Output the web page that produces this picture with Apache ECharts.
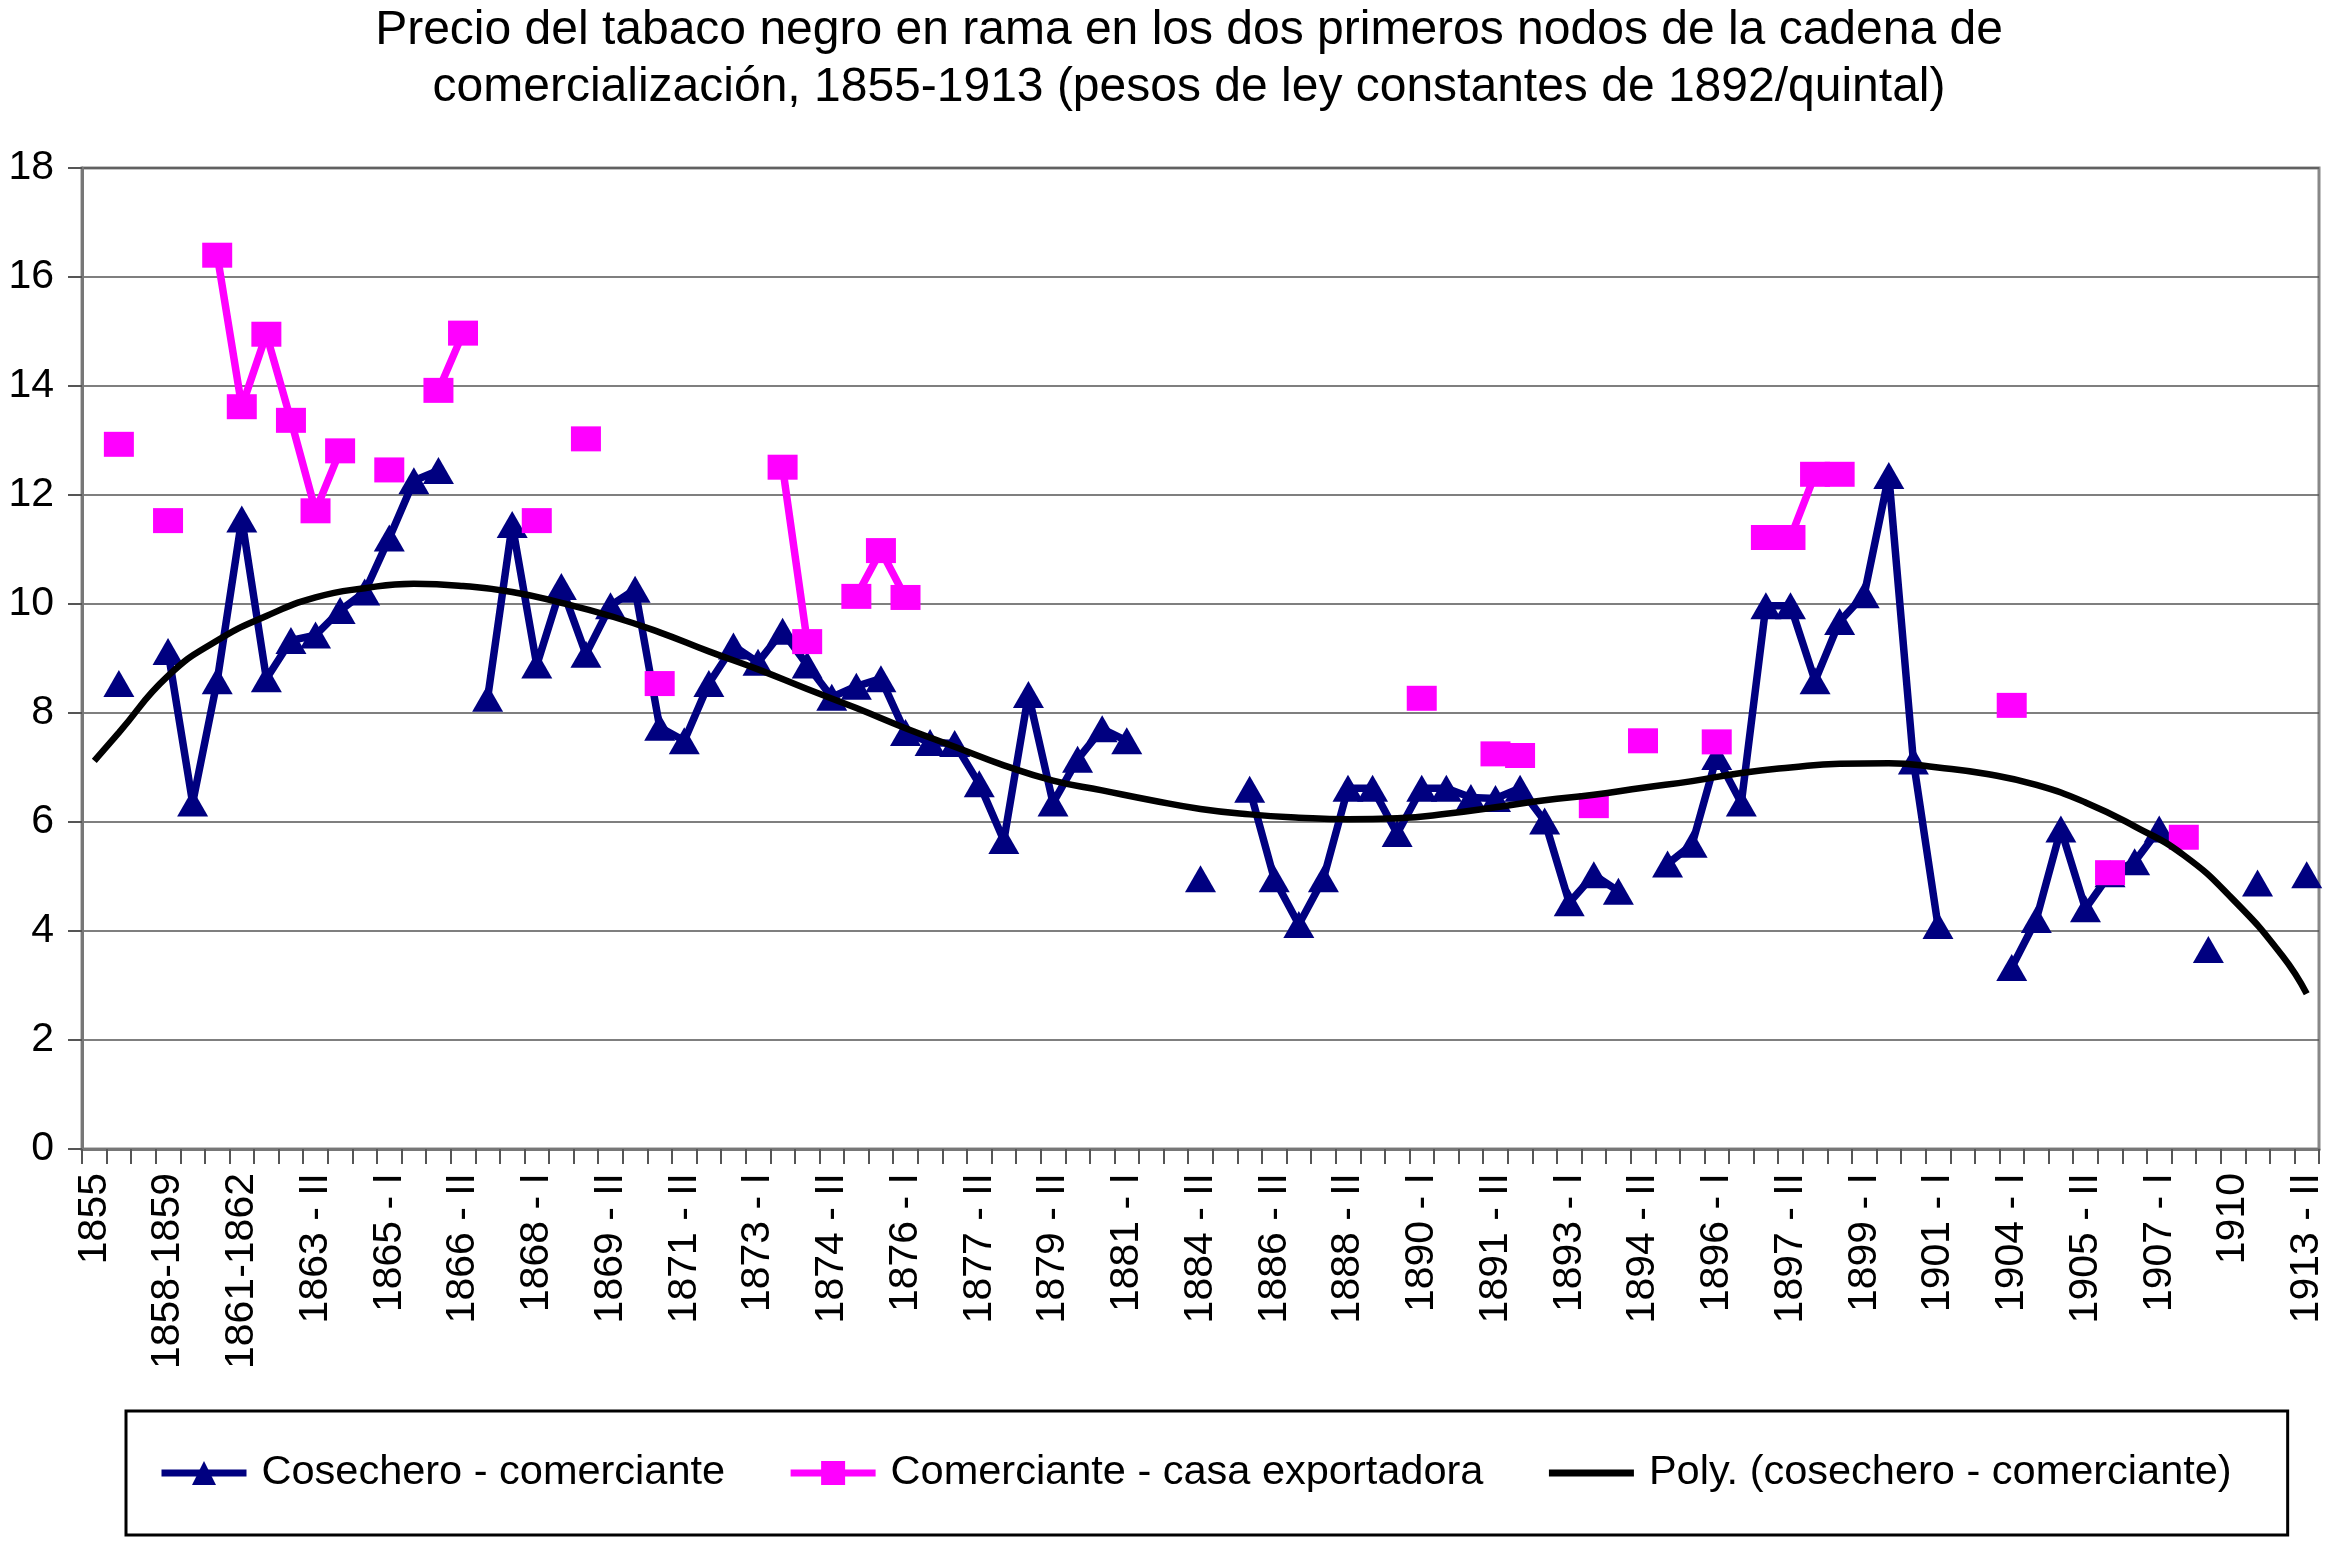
<!DOCTYPE html>
<html>
<head>
<meta charset="utf-8">
<script src="https://cdn.jsdelivr.net/npm/echarts@6/dist/echarts.min.js"></script>
<style>
html,body{margin:0;padding:0;background:#fff;}
#chart{width:2329px;height:1543px;}
</style>
</head>
<body>
<div id="chart"></div>
<script>
const titleText = 'Precio del tabaco negro en rama en los dos primeros nodos de la cadena de\ncomercialización, 1855-1913 (pesos de ley constantes de 1892/quintal)';

const categories = [
'1855','1856','1857','1858-1859','1859-1860','1860-1861','1861-1862','1862 - II','1863 - I','1863 - II',
'1864 - I','1864 - II','1865 - I','1865 - II','1866 - I','1866 - II','1867 - I','1867 - II','1868 - I','1868 - II',
'1869 - I','1869 - II','1870 - I','1871 - I','1871 - II','1872 - I','1872 - II','1873 - I','1873 - II','1874 - I',
'1874 - II','1875 - I','1875 - II','1876 - I','1876 - II','1877 - I','1877 - II','1878 - I','1879 - I','1879 - II',
'1880 - I','1880 - II','1881 - I','1882','1883','1884 - II','1885','1886 - I','1886 - II','1887 - I',
'1888 - I','1888 - II','1889 - I','1889 - II','1890 - I','1890 - II','1891 - I','1891 - II','1892 - I','1892 - II',
'1893 - I','1893 - II','1894 - I','1894 - II','1895 - I','1895 - II','1896 - I','1896 - II','1897 - I','1897 - II',
'1898 - I','1898 - II','1899 - I','1899 - II','1900','1901 - I','1901 - II','1902-1903','1904 - I','1904 - II',
'1905 - I','1905 - II','1906 - I','1906 - II','1907 - I','1907 - II','1908-1909','1910','1911','1912',
'1913 - II'
];

const cosecheroComerciante = [
null, 8.54, null, 9.13, 6.35, 8.59, 11.56, 8.63, 9.33, 9.43,
9.88, 10.22, 11.21, 12.26, 12.45, null, 8.27, 11.46, 8.88, 10.32,
9.08, 9.97, 10.27, 7.74, 7.49, 8.54, 9.23, 8.93, 9.50, 8.88,
8.29, 8.49, 8.63, 7.64, 7.46, 7.44, 6.70, 5.66, 8.34, 6.35,
7.15, 7.71, 7.49, null, null, 4.96, null, 6.60, 4.96, 4.12,
4.96, 6.62, 6.62, 5.79, 6.62, 6.62, 6.45, 6.43, 6.62, 6.02,
4.52, 5.03, 4.73, null, 5.23, 5.59, 7.20, 6.35, 9.97, 9.97,
8.59, 9.68, 10.17, 12.36, 7.12, 4.10, null, null, 3.33, 4.21,
5.87, 4.41, 5.05, 5.27, 5.87, null, 3.66, null, 4.88, null,
5.03
];

const comercianteCasaExportadora = [
null, 12.93, null, 11.53, null, 16.40, 13.62, 14.95, 13.37, 11.71,
12.81, null, 12.46, null, 13.92, 14.97, null, null, 11.53, null,
13.03, null, null, 8.54, null, null, null, null, 12.51, 9.31,
null, 10.14, 10.98, 10.12, null, null, null, null, null, null,
null, null, null, null, null, null, null, null, null, null,
null, null, null, null, 8.27, null, null, 7.25, 7.22, null,
null, 6.30, null, 7.49, null, null, 7.47, null, 11.22, 11.22,
12.38, 12.38, null, null, null, null, null, null, 8.14, null,
null, null, 5.07, null, null, 5.72, null, null, null, null,
null
];

const polyCosechero = [
7.12, 7.64, null, 8.68, null, 9.33, null, 9.78, null, 10.12,
null, 10.29, null, 10.37, null, 10.33, null, 10.22, null, 10.02,
null, 9.78, null, 9.48, null, 9.13, null, 8.80, null, 8.44,
null, 8.09, null, 7.72, null, 7.38, null, 7.04, null, 6.76,
null, 6.58, null, 6.40, null, 6.24, null, 6.14, null, 6.08,
null, 6.05, null, 6.07, null, 6.15, null, 6.27, null, 6.40,
null, 6.50, null, 6.63, null, 6.75, null, 6.90, null, 7.00,
null, 7.07, null, 7.08, null, 7.00, null, 6.88, null, 6.68,
null, 6.36, null, 5.92, null, 5.39, null, 4.58, null, 3.55,
2.85
];

const yTicks = {min: 0, max: 18, interval: 2};
const seriesNames = ['Cosechero - comerciante', 'Comerciante - casa exportadora', 'Poly. (cosechero - comerciante)'];

const FONT = 'Liberation Sans, Arial, Helvetica, sans-serif';
const chart = echarts.init(document.getElementById('chart'), null, {renderer: 'canvas'});

chart.setOption({
  backgroundColor: '#ffffff',
  animation: false,
  textStyle: {fontFamily: FONT, color: '#000'},
  title: {
    text: titleText,
    left: 1184,
    textAlign: 'center',
    top: -3,
    textStyle: {fontFamily: FONT, fontSize: 48, fontWeight: 'normal', color: '#000', lineHeight: 57}
  },
  grid: {
    left: 82, right: 10, top: 168, bottom: 394,
    show: true, borderColor: '#888', borderWidth: 3, backgroundColor: 'transparent'
  },
  legend: {
    data: [
      {name: seriesNames[0]},
      {name: seriesNames[1]},
      {name: seriesNames[2], itemStyle: {opacity: 0}}
    ],
    left: 126,
    top: 1411,
    orient: 'horizontal',
    borderColor: '#000',
    borderWidth: 3,
    padding: [41, 56, 41, 32],
    itemGap: 62,
    itemWidth: 85,
    itemHeight: 30,
    lineStyle: {width: 7},
    textStyle: {fontFamily: FONT, fontSize: 41.5, color: '#000', padding: [0, 0, 0, 10]}
  },
  xAxis: {
    type: 'category',
    data: categories,
    boundaryGap: true,
    axisLine: {show: true, lineStyle: {color: '#777', width: 3}},
    axisTick: {show: true, interval: 0, length: 15, lineStyle: {color: '#555', width: 2}},
    axisLabel: {interval: 2, rotate: 90, fontSize: 41, color: '#000', margin: 24, fontFamily: FONT},
    splitLine: {show: false}
  },
  yAxis: {
    type: 'value',
    min: yTicks.min, max: yTicks.max, interval: yTicks.interval,
    axisLine: {show: true, lineStyle: {color: '#777', width: 3}},
    axisTick: {show: true, length: 14, lineStyle: {color: '#555', width: 2}},
    axisLabel: {fontSize: 41, color: '#000', margin: 28, fontFamily: FONT},
    splitLine: {show: true, lineStyle: {color: '#555', width: 1.5}}
  },
  series: [
    {
      name: seriesNames[0],
      type: 'line',
      data: cosecheroComerciante,
      connectNulls: false,
      symbol: 'triangle',
      symbolSize: [31, 27],
      showAllSymbol: true,
      itemStyle: {color: '#000080'},
      lineStyle: {color: '#000080', width: 7.5},
      z: 2
    },
    {
      name: seriesNames[1],
      type: 'line',
      data: comercianteCasaExportadora,
      connectNulls: false,
      symbol: 'rect',
      symbolSize: [30, 25],
      showAllSymbol: true,
      itemStyle: {color: '#FF00FF'},
      lineStyle: {color: '#FF00FF', width: 7.5},
      z: 3
    },
    {
      name: seriesNames[2],
      type: 'line',
      data: polyCosechero,
      connectNulls: true,
      smooth: 0.5,
      symbol: 'none',
      itemStyle: {color: '#000'},
      lineStyle: {color: '#000', width: 6.5},
      z: 4
    }
  ]
});
</script>
</body>
</html>
